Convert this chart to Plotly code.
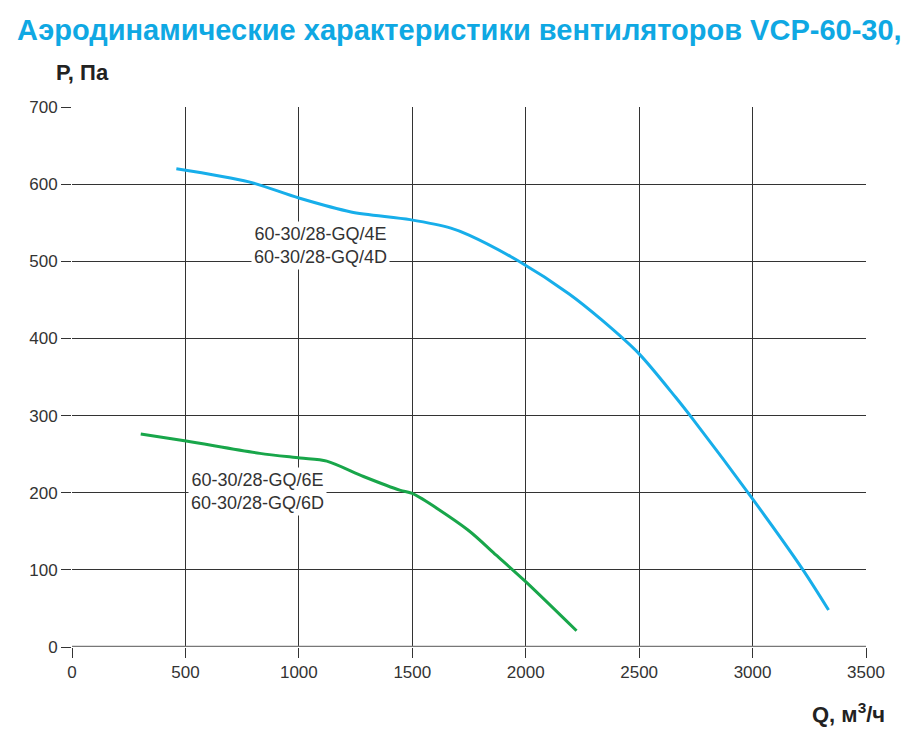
import plotly.graph_objects as go

# fan curve readings, Q in m3/h, P in Pa
blue_q = [460, 780, 1000, 1230, 1490, 1670, 1750, 1970, 2190, 2335, 2500, 2660, 2735, 3000, 3220, 3335]
blue_p = [620, 603, 582, 564, 554, 543, 534, 500, 458, 424, 380, 324, 296, 192, 101, 48]

green_q = [303, 503, 828, 1005, 1123, 1285, 1448, 1500, 1744, 1870, 1995, 2224]
green_p = [276, 267, 251, 245, 241, 221, 203, 199, 152, 119, 86, 21]

x_ticks = [0, 500, 1000, 1500, 2000, 2500, 3000, 3500]
y_ticks = [0, 100, 200, 300, 400, 500, 600, 700]

label_4 = "60-30/28-GQ/4E<br>60-30/28-GQ/4D"
label_6 = "60-30/28-GQ/6E<br>60-30/28-GQ/6D"

plain = "Liberation Sans, Arial, sans-serif"

fig = go.Figure()
fig.add_trace(go.Scatter(x=blue_q, y=blue_p, mode="lines",
                         line=dict(color="#17aeea", width=3, shape="spline", smoothing=0.8),
                         hoverinfo="x+y"))
fig.add_trace(go.Scatter(x=green_q, y=green_p, mode="lines",
                         line=dict(color="#18a64a", width=3, shape="spline", smoothing=0.8),
                         hoverinfo="x+y"))

axis_common = dict(showgrid=True, gridcolor="#333333", gridwidth=1.4,
                   ticks="outside", ticklen=10, tickcolor="#333333", tickwidth=1.4,
                   showline=False, zeroline=False,
                   tickfont=dict(family=plain, size=17, color="#333333"))

fig.update_xaxes(range=[0, 3500], tickvals=x_ticks, **axis_common)
fig.update_yaxes(range=[0, 700], tickvals=y_ticks, **axis_common)

# thicker grey base line at P = 0
fig.add_hline(y=0, line=dict(color="#777777", width=2.5))

fig.add_annotation(x=1097, y=520, text=label_4, showarrow=False,
                   font=dict(family=plain, size=18, color="#333333"),
                   bgcolor="white", borderpad=2)
fig.add_annotation(x=817, y=201, text=label_6, showarrow=False,
                   font=dict(family=plain, size=18, color="#333333"),
                   bgcolor="white", borderpad=2)

fig.add_annotation(xref="paper", yref="paper", x=-0.072, y=1.143,
                   xanchor="left", yanchor="middle", showarrow=False,
                   text="<b>Аэродинамические характеристики вентиляторов VCP-60-30,</b>",
                   font=dict(family=plain, size=29, color="#0fa8e3"))
fig.add_annotation(xref="paper", yref="paper", x=0.0126, y=1.063,
                   xanchor="center", yanchor="middle", showarrow=False,
                   text="<b>P, Па</b>",
                   font=dict(family=plain, size=22, color="#222222"))
fig.add_annotation(xref="paper", yref="paper", x=1.0264, y=-0.122,
                   xanchor="right", yanchor="middle", showarrow=False,
                   text="<b>Q, м<sup>3</sup>/ч</b>",
                   font=dict(family=plain, size=22, color="#222222"))

# page body adds an 8px offset, so margins are trimmed on the left/top
fig.update_layout(width=910, height=734,
                  margin=dict(l=64, r=52, t=99, b=95),
                  plot_bgcolor="white", paper_bgcolor="white",
                  showlegend=False)

fig.write_html("out.html")
